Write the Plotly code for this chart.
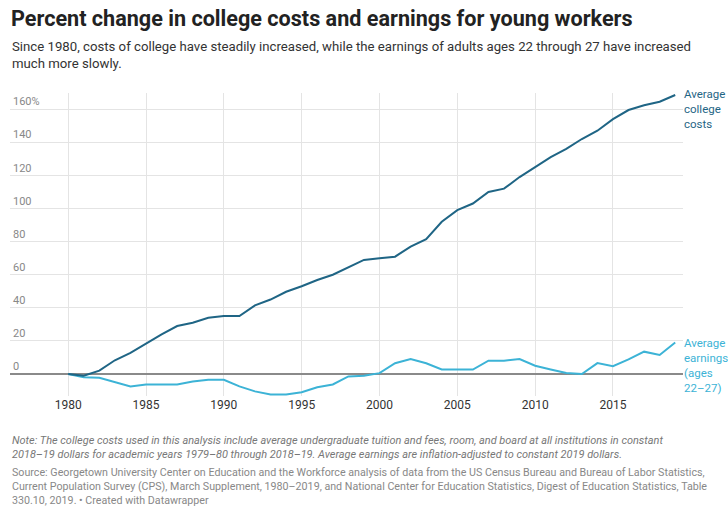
import plotly.graph_objects as go

years = list(range(1980, 2020))
college_costs = [0, -1, 2, 8.3, 12.7, 18.5, 24, 29, 31, 34, 35, 35, 41.5, 45, 49.7, 53, 56.8, 60, 64.5, 68.9,
                 70, 70.9, 77, 81.5, 92, 99, 103, 110, 112, 119, 125, 131, 136, 142, 147, 154, 159.5, 162.4, 164.5, 168.6]
earnings = [0, -2, -2.3, -5, -7.5, -6.3, -6.3, -6.3, -4.5, -3.5, -3.5, -7.5, -10.5, -12.4, -12.4, -11, -8, -6.3, -1.5, -1,
            0.5, 6.5, 9, 6.5, 2.7, 2.7, 2.7, 8, 8, 9, 5, 2.7, 0.6, 0, 6.6, 4.7, 8.8, 13.5, 11.5, 19]

y_ticks = [0, 20, 40, 60, 80, 100, 120, 140, 160]
y_tick_labels = ["0", "20", "40", "60", "80", "100", "120", "140", "160%"]
x_ticks = [1980, 1985, 1990, 1995, 2000, 2005, 2010, 2015]

title = "Percent change in college costs and earnings for young workers"
subtitle = ("Since 1980, costs of college have steadily increased, while the earnings of adults ages 22 through 27 have increased"
            "<br>much more slowly.")
note = ("<i>Note: The college costs used in this analysis include average undergraduate tuition and fees, room, and board at all institutions in constant"
        "<br>2018–19 dollars for academic years 1979–80 through 2018–19. Average earnings are inflation-adjusted to constant 2019 dollars.</i>")
source = ("Source: Georgetown University Center on Education and the Workforce analysis of data from the US Census Bureau and Bureau of Labor Statistics,"
          "<br>Current Population Survey (CPS), March Supplement, 1980–2019, and National Center for Education Statistics, Digest of Education Statistics, Table"
          "<br>330.10, 2019. • Created with Datawrapper")

DARK = "#1f6585"
LIGHT = "#3cb3d6"

W, H = 728, 508
L, R, T, B = 10, 45, 93, 112
PW, PH = W - L - R, H - T - B


def px(x):
    return (x - L) / PW


def py(y):
    return (H - B - y) / PH


fig = go.Figure()
fig.add_trace(go.Scatter(x=years, y=earnings, mode="lines", line=dict(color=LIGHT, width=2), hoverinfo="skip"))
fig.add_trace(go.Scatter(x=years, y=college_costs, mode="lines", line=dict(color=DARK, width=2), hoverinfo="skip"))

font = "Roboto, Arial, sans-serif"
ann = []
ann.append(dict(text="<b>" + title + "</b>", x=px(9), y=py(18), xref="paper", yref="paper", xanchor="left",
                yanchor="middle", showarrow=False, font=dict(family=font, size=21.6, color="#222")))
ann.append(dict(text=subtitle, x=px(10), y=py(37), xref="paper", yref="paper", xanchor="left", yanchor="top",
                showarrow=False, align="left", font=dict(family=font, size=13.2, color="#333")))
ann.append(dict(text=note, x=px(10), y=py(432), xref="paper", yref="paper", xanchor="left", yanchor="top",
                showarrow=False, align="left", font=dict(family=font, size=10.95, color="#777")))
ann.append(dict(text=source, x=px(10), y=py(464), xref="paper", yref="paper", xanchor="left", yanchor="top",
                showarrow=False, align="left", font=dict(family=font, size=10.7, color="#888")))
ann.append(dict(text="Average<br>college<br>costs", x=years[-1], y=college_costs[-1], xref="x", yref="y",
                xanchor="left", yanchor="top", xshift=7, yshift=10, showarrow=False, align="left",
                font=dict(family=font, size=11.5, color=DARK)))
ann.append(dict(text="Average<br>earnings<br>(ages<br>22–27)", x=years[-1], y=earnings[-1], xref="x", yref="y",
                xanchor="left", yanchor="top", xshift=7, yshift=9, showarrow=False, align="left",
                font=dict(family=font, size=11.5, color=LIGHT)))

fig.update_layout(
    width=W, height=H,
    margin=dict(l=L, r=R, t=T, b=B),
    paper_bgcolor="white", plot_bgcolor="white",
    showlegend=False,
    annotations=ann,
    xaxis=dict(range=[1976.26, 2019.5], tickvals=x_ticks, showgrid=True, gridcolor="#e4e4e4", gridwidth=1,
               zeroline=False, showline=False, ticks="", tickfont=dict(family=font, size=12, color="#333"),
               fixedrange=True),
    yaxis=dict(range=[-13.3, 169.8], tickvals=y_ticks, ticktext=y_tick_labels, ticklabelposition="inside top",
               showgrid=True, gridcolor="#e4e4e4", gridwidth=1, zeroline=True, zerolinecolor="#8a8a8a",
               zerolinewidth=2, showline=False, ticks="", tickfont=dict(family=font, size=11, color="#888"),
               fixedrange=True),
)

fig.write_html("out.html")
